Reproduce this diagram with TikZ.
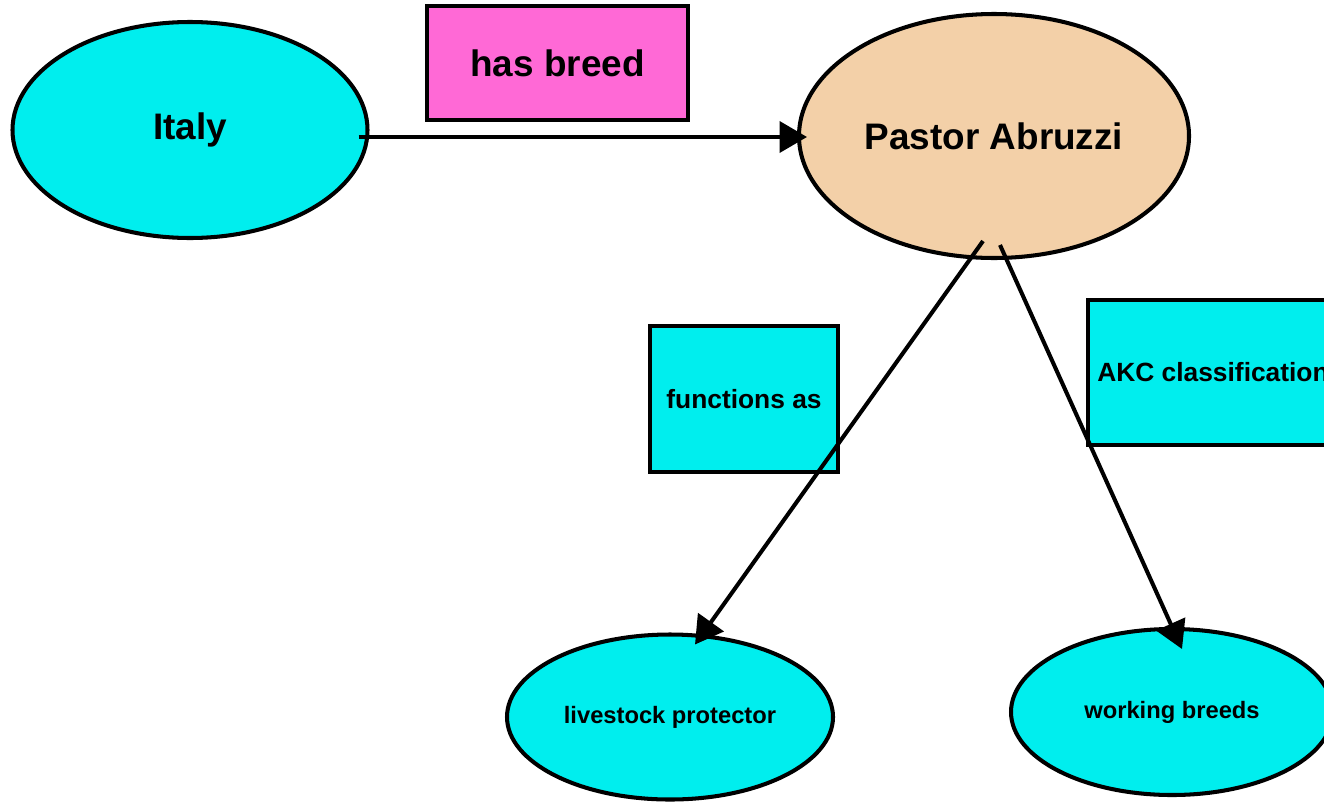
\documentclass[tikz,border=0pt]{standalone}
\usepackage{fontspec}
\setmainfont{Liberation Sans}
\usepackage{tikz}
\usetikzlibrary{shapes.geometric, arrows.meta, positioning, calc}
\definecolor{aqua}{RGB}{0,238,238}
\definecolor{hotpink}{RGB}{255,105,214}
\definecolor{peach}{RGB}{243,208,168}
\tikzset{
  concept/.style = {
    ellipse, draw=black, line width=2.3pt, fill=aqua,
    inner sep=0pt, outer sep=0pt, text centered,
    font=\bfseries\fontsize{21pt}{25pt}\selectfont
  },
  small/.style = {font=\bfseries\fontsize{13.5pt}{16pt}\selectfont},
  relbox/.style = {
    rectangle, draw=black, line width=2.3pt, fill=aqua,
    inner sep=0pt, outer sep=0pt, text centered,
    font=\bfseries\fontsize{15pt}{18pt}\selectfont
  },
  link/.style = {-{Triangle[length=0.55cm, width=0.62cm]}, line width=2.3pt}
}
\begin{document}
\begin{tikzpicture}
  \useasboundingbox (0,0) rectangle (26.48,-16.02);
  \clip (0,0) rectangle (26.48,-16.02);
  % Nodes
  \node[concept, minimum width=7.1cm, minimum height=4.32cm] (italy) at (3.80,-2.60) {Italy};
  \node[concept, fill=peach, minimum width=7.8cm, minimum height=4.88cm,
        right=8.63cm of italy, yshift=-0.12cm] (pa) {Pastor Abruzzi};
  \node[concept, small, minimum width=6.52cm, minimum height=3.3cm,
        below=7.53cm of pa, xshift=-6.48cm] (lp) {livestock protector};
  \node[concept, small, minimum width=6.44cm, minimum height=3.32cm,
        below=7.42cm of pa, xshift=3.56cm] (wb) {working breeds};

  \node[relbox, fill=hotpink, minimum width=5.22cm, minimum height=2.28cm,
        font=\bfseries\fontsize{21pt}{25pt}\selectfont] (hb) at (11.15,-1.26) {has breed};
  \node[relbox, minimum width=3.76cm, minimum height=2.92cm] (fa) at (14.88,-7.98) {functions as};
  \node[relbox, minimum width=5.0cm, minimum height=2.9cm] (akc) at (24.26,-7.45) {AKC classification};

  % Connections
  \draw[link] ($(italy.east)+(-0.18,-0.14)$) -- ($(pa.west)+(0.16,-0.02)$);
  \draw[link] ($(pa.south)+(-0.22,0.34)$) -- ($(lp.north)+(0.5,-0.2)$);
  \draw[link] ($(pa.south)+(0.12,0.26)$) -- ($(wb.north)+(0.2,-0.4)$);
\end{tikzpicture}
\end{document}
